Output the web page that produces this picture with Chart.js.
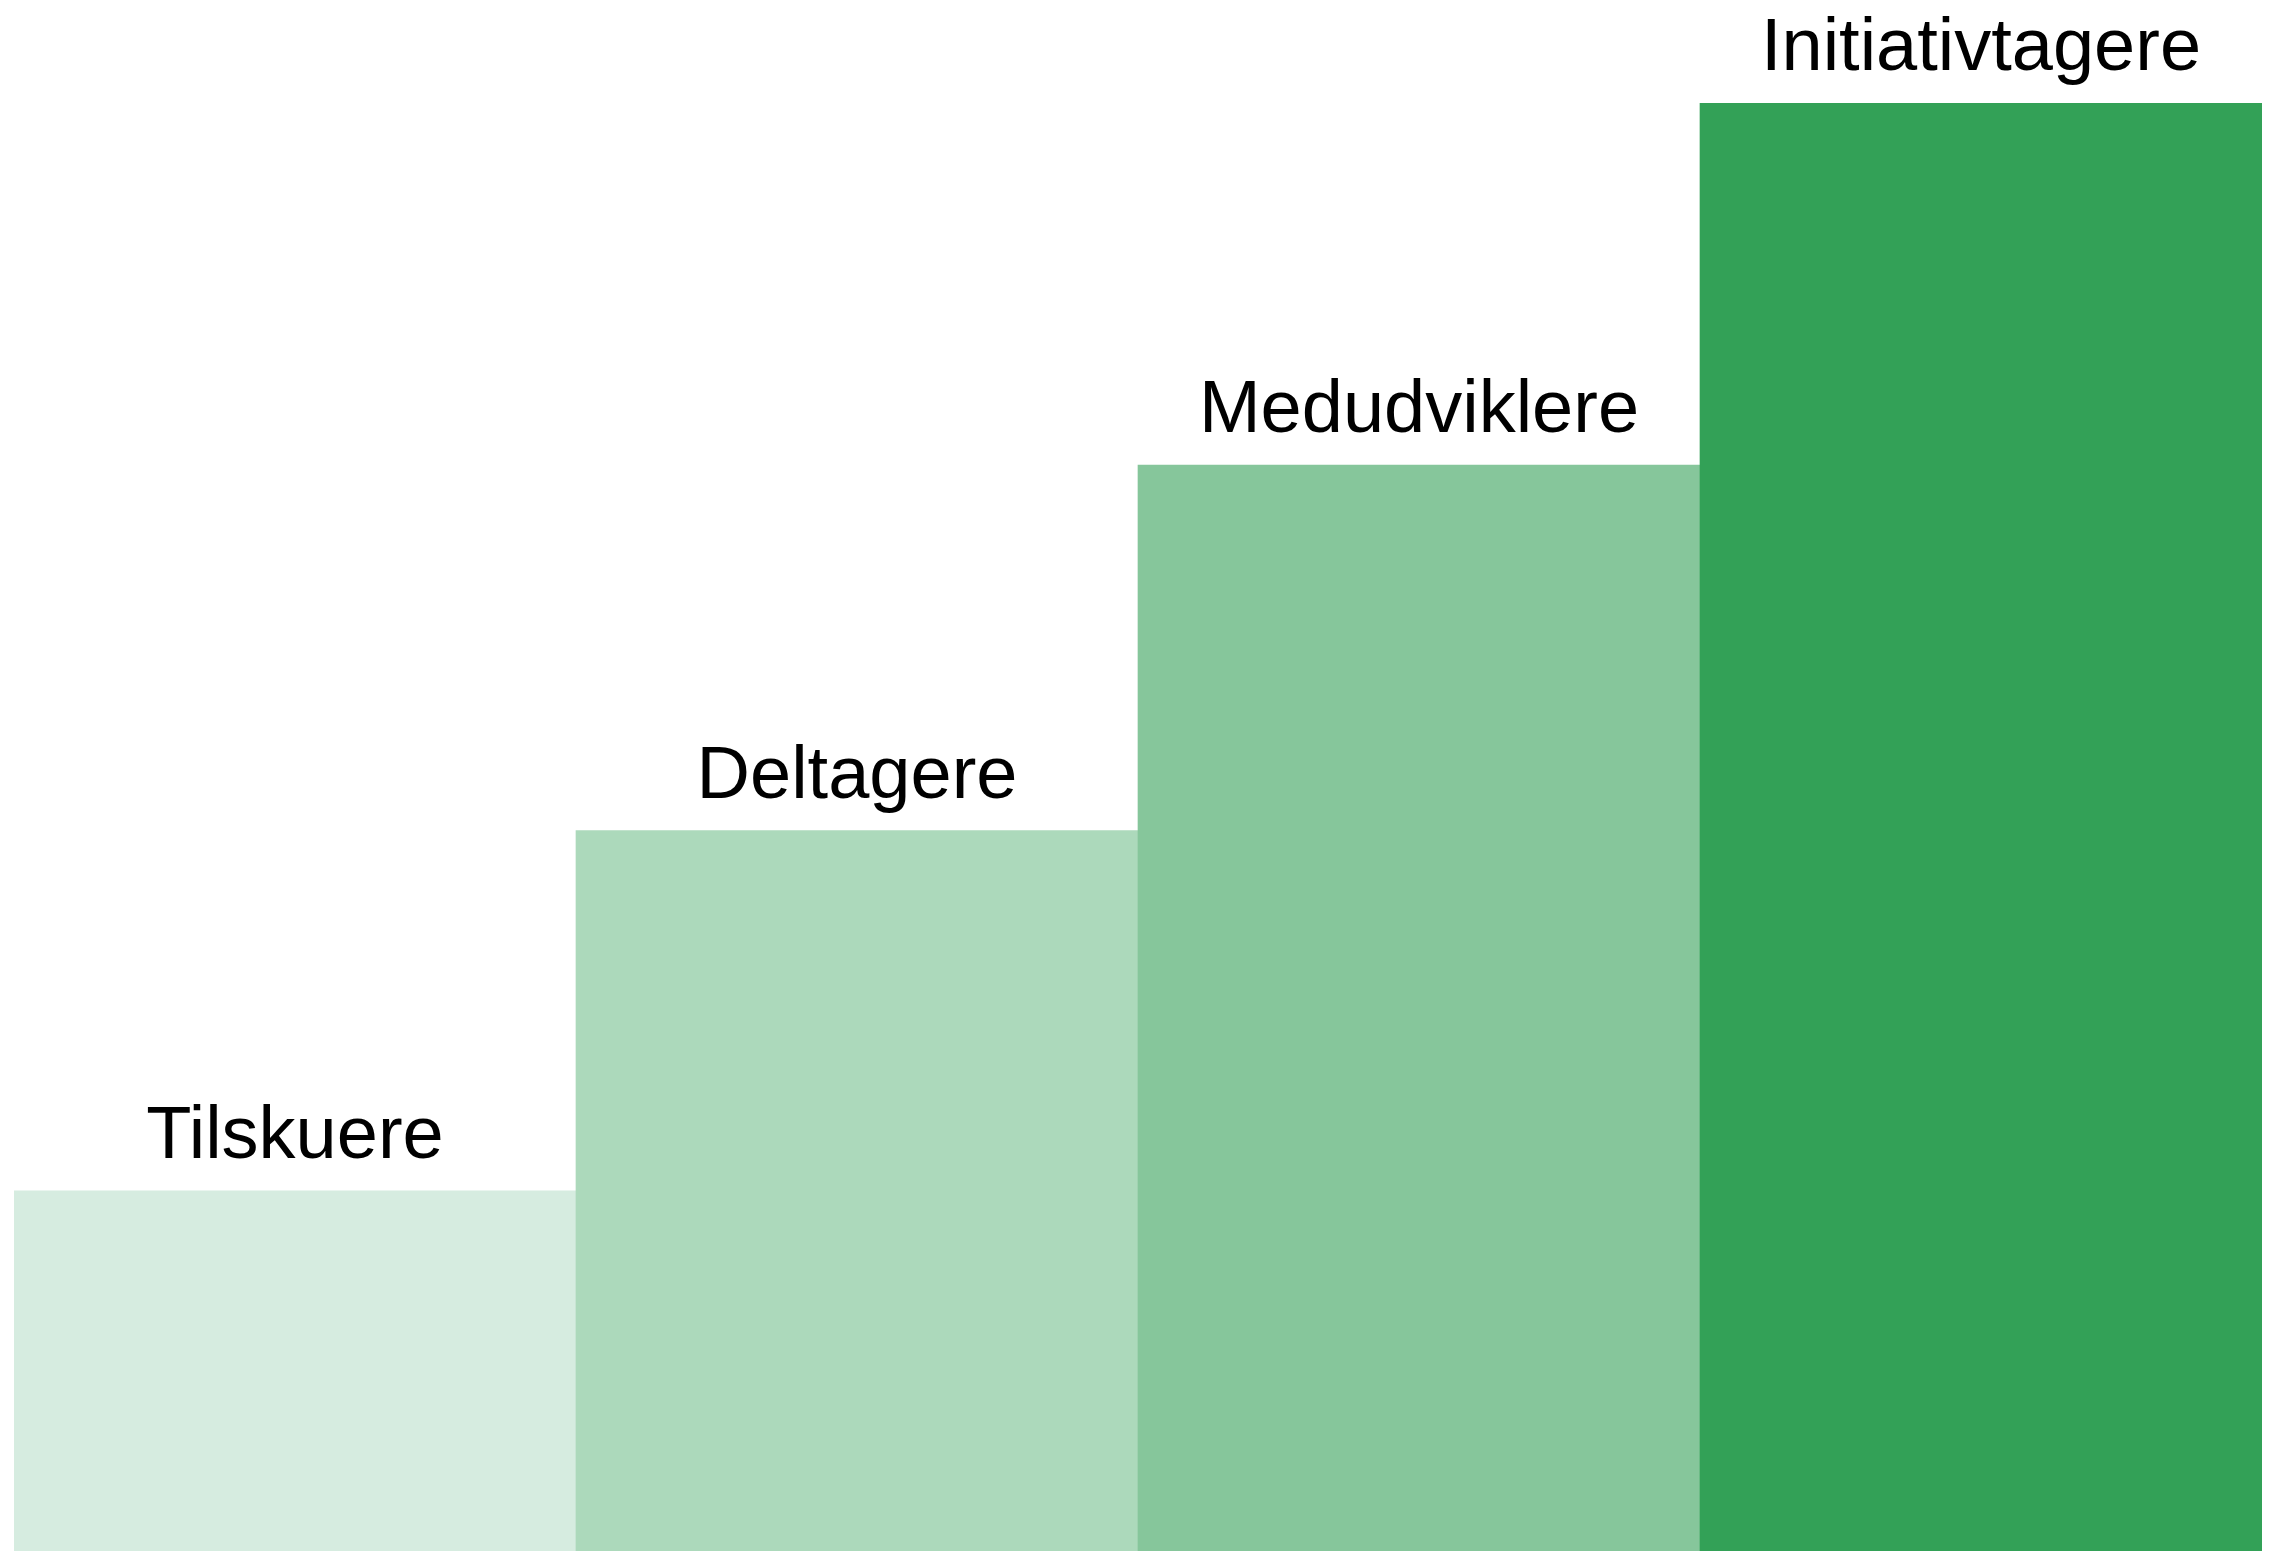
<!DOCTYPE html>
<html>
<head>
<meta charset="utf-8">
<script src="https://cdn.jsdelivr.net/npm/chart.js@4/dist/chart.umd.min.js"></script>
<style>
  html, body { margin: 0; padding: 0; background: #ffffff; }
  #wrap { width: 2272px; height: 1551px; }
</style>
</head>
<body>
<div id="wrap"><canvas id="steps"></canvas></div>
<script>
const categories = ['Tilskuere', 'Deltagere', 'Medudviklere', 'Initiativtagere'];
const levels = [0.995, 1.99, 3.0, 4.0];
const barColors = ['#d6ece0', '#acd9bb', '#86c69b', '#33a157'];

// draws the category name above each bar
const topLabels = {
    id: 'topLabels',
    afterDatasetsDraw(chart) {
        const ctx = chart.ctx;
        const meta = chart.getDatasetMeta(0);
        ctx.save();
        ctx.font = '74px "Liberation Sans", Arial, sans-serif';
        ctx.fillStyle = '#000000';
        ctx.textAlign = 'center';
        ctx.textBaseline = 'alphabetic';
        meta.data.forEach((bar, i) => {
            ctx.fillText(categories[i], bar.x, bar.y - 33);
        });
        ctx.restore();
    }
};

const ctx = document.getElementById('steps').getContext('2d');

const chart = new Chart(ctx, {
    type: 'bar',
    data: {
        labels: categories,
        datasets: [{
            data: levels,
            backgroundColor: barColors,
            borderWidth: 0,
            barPercentage: 1,
            categoryPercentage: 1
        }]
    },
    options: {
        responsive: true,
        maintainAspectRatio: false,
        animation: false,
        layout: { padding: { left: 14, right: 10, top: 103, bottom: 0 } },
        plugins: {
            legend: { display: false },
            tooltip: { enabled: false }
        },
        scales: {
            x: { display: false },
            y: { display: false, min: 0, max: 4 }
        }
    },
    plugins: [topLabels]
});
</script>
</body>
</html>
